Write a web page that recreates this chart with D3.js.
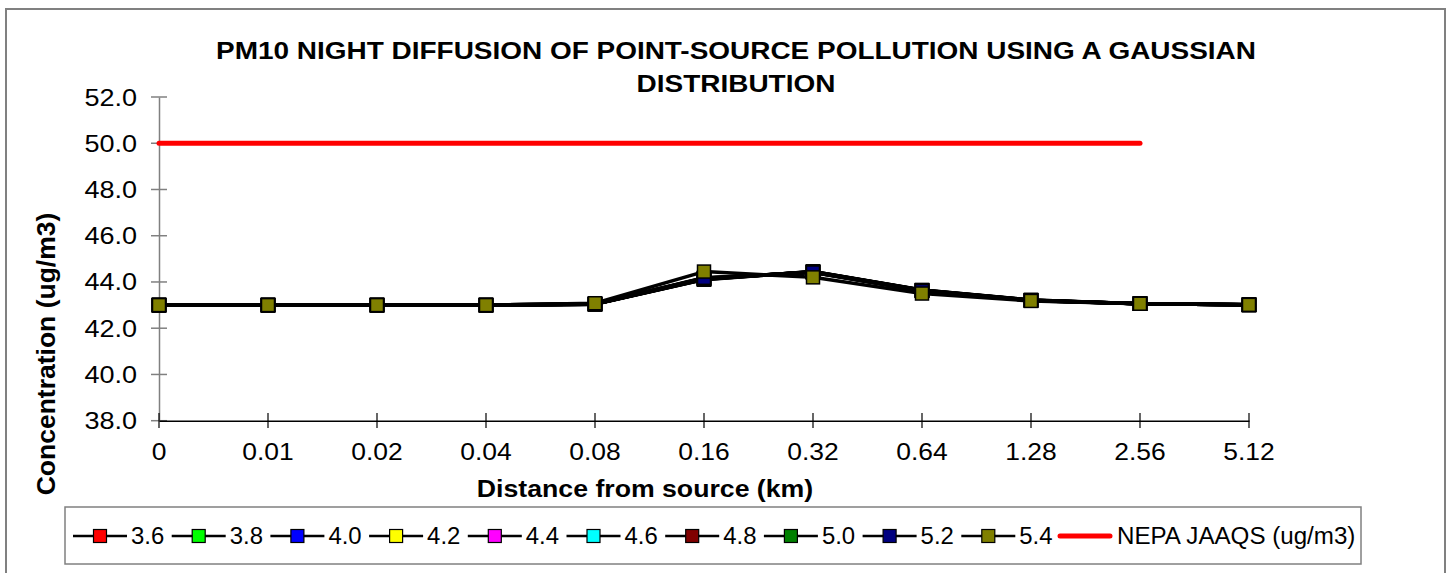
<!DOCTYPE html>
<html>
<head>
<meta charset="utf-8">
<script src="https://cdn.jsdelivr.net/npm/d3@7"></script>
<style>
  body { margin: 0; background: #fff; }
  text { font-family: "Liberation Sans", Arial, sans-serif; fill: #000; }
</style>
</head>
<body>
<div id="chart"></div>
<script>
// distances (km) on the category axis
var distances = ['0', '0.01', '0.02', '0.04', '0.08', '0.16', '0.32', '0.64', '1.28', '2.56', '5.12'];
var yTicks = [38, 40, 42, 44, 46, 48, 50, 52];

// one series per wind speed (m/s)
var s36 = [43.0, 43.0, 43.0, 43.0, 43.04, 44.10, 44.45, 43.65, 43.22, 43.06, 43.01];
var s38 = [43.0, 43.0, 43.0, 43.0, 43.04, 44.11, 44.45, 43.65, 43.22, 43.06, 43.01];
var s40 = [43.0, 43.0, 43.0, 43.0, 43.04, 44.12, 44.44, 43.64, 43.21, 43.06, 43.01];
var s42 = [43.0, 43.0, 43.0, 43.0, 43.04, 44.13, 44.44, 43.64, 43.21, 43.06, 43.01];
var s44 = [43.0, 43.0, 43.0, 43.0, 43.04, 44.14, 44.43, 43.63, 43.21, 43.06, 43.01];
var s46 = [43.0, 43.0, 43.0, 43.0, 43.05, 44.15, 44.43, 43.63, 43.20, 43.06, 43.01];
var s48 = [43.0, 43.0, 43.0, 43.0, 43.05, 44.16, 44.42, 43.62, 43.20, 43.06, 43.01];
var s50 = [43.0, 43.0, 43.0, 43.0, 43.05, 44.17, 44.42, 43.62, 43.20, 43.06, 43.01];
var s52 = [43.0, 43.0, 43.0, 43.0, 43.05, 44.18, 44.41, 43.61, 43.19, 43.06, 43.01];
var s54 = [43.0, 43.0, 43.0, 43.0, 43.08, 44.45, 44.20, 43.50, 43.18, 43.06, 43.01];
// standard line (no value at 5.12)
var nepa = [50, 50, 50, 50, 50, 50, 50, 50, 50, 50, null];

var seriesNames = ['3.6', '3.8', '4.0', '4.2', '4.4', '4.6', '4.8', '5.0', '5.2', '5.4'];
var seriesColors = ['#ff0000', '#00ff00', '#0000ff', '#ffff00', '#ff00ff', '#00ffff', '#800000', '#008000', '#000080', '#808000'];
var seriesValues = [s36, s38, s40, s42, s44, s46, s48, s50, s52, s54];

var width = 1449, height = 573;

var svg = d3.select('#chart')
    .append('svg')
    .attr('width', width)
    .attr('height', height);

svg.append('rect')
    .attr('width', width).attr('height', height)
    .attr('fill', 'white');

// outer chart border
svg.append('rect')
    .attr('x', 6).attr('y', 9)
    .attr('width', 1439).attr('height', 620)
    .attr('fill', 'none')
    .attr('stroke', '#808080')
    .attr('stroke-width', 2);

var x = d3.scalePoint()
    .domain(distances)
    .range([159, 1249]);

var y = d3.scaleLinear()
    .domain([38, 52])
    .range([420.7, 97]);

// the original fonts are drawn a bit wider than normal, so stretch them
function wideText(g, tx, ty, str, size, anchor, bold, sx) {
    g.append('text')
        .attr('transform', 'translate(' + tx + ',' + ty + ') scale(' + sx + ',1)')
        .attr('text-anchor', anchor)
        .style('font-size', size + 'px')
        .style('font-weight', bold ? 'bold' : 'normal')
        .text(str);
}

// title
wideText(svg, 736, 59, 'PM10 NIGHT DIFFUSION OF POINT-SOURCE POLLUTION USING A GAUSSIAN', 24, 'middle', true, 1.165);
wideText(svg, 736, 92, 'DISTRIBUTION', 24, 'middle', true, 1.165);

// y axis
var yAxis = svg.append('g')
    .attr('transform', 'translate(159,0)')
    .call(d3.axisLeft(y).tickValues(yTicks).tickSize(0).tickFormat(''));
yAxis.select('.domain').attr('stroke', '#808080').attr('stroke-width', 1.5);
yTicks.forEach(function(t) {
    svg.append('line')
        .attr('x1', 151).attr('x2', 167)
        .attr('y1', y(t)).attr('y2', y(t))
        .attr('stroke', '#808080').attr('stroke-width', 1.5);
    wideText(svg, 137, y(t) + 8.5, d3.format('.1f')(t), 23.5, 'end', false, 1.15);
});

// x axis
var xAxis = svg.append('g')
    .attr('transform', 'translate(0,' + y(38) + ')')
    .call(d3.axisBottom(x).tickSize(0).tickFormat(''));
xAxis.select('.domain').attr('stroke', '#000').attr('stroke-width', 1.5);
distances.forEach(function(d) {
    svg.append('line')
        .attr('x1', x(d)).attr('x2', x(d))
        .attr('y1', 413).attr('y2', 428)
        .attr('stroke', '#000').attr('stroke-width', 1.2);
    wideText(svg, x(d), 460, d, 23, 'middle', false, 1.15);
});

// axis titles
wideText(svg, 645, 497, 'Distance from source (km)', 23, 'middle', true, 1.16);
svg.append('text')
    .attr('transform', 'translate(55,354) rotate(-90) scale(1.06,1)')
    .attr('text-anchor', 'middle')
    .style('font-size', '25px')
    .style('font-weight', 'bold')
    .text('Concentration (ug/m3)');

var line = d3.line()
    .defined(function(d) { return d.v != null; })
    .x(function(d) { return x(d.k); })
    .y(function(d) { return y(d.v); });

function pairs(vals) {
    return distances.map(function(k, i) { return { k: k, v: vals[i] }; });
}

// wind speed series
seriesValues.forEach(function(vals, i) {
    svg.append('path')
        .datum(pairs(vals))
        .attr('d', line)
        .attr('fill', 'none')
        .attr('stroke', '#000')
        .attr('stroke-width', 3.5)
        .attr('stroke-linejoin', 'round');
});
seriesValues.forEach(function(vals, i) {
    svg.selectAll('.m' + i)
        .data(pairs(vals))
        .enter()
        .append('rect')
        .attr('x', function(d) { return x(d.k) - 6.5; })
        .attr('y', function(d) { return y(d.v) - 6.5; })
        .attr('width', 13).attr('height', 13)
        .attr('fill', seriesColors[i])
        .attr('stroke', '#000')
        .attr('stroke-width', 1.5);
});

// standard line
svg.append('path')
    .datum(pairs(nepa))
    .attr('d', line)
    .attr('fill', 'none')
    .attr('stroke', '#ff0000')
    .attr('stroke-width', 5)
    .attr('stroke-linecap', 'round');

// legend
var legend = svg.append('g');
legend.append('rect')
    .attr('x', 65).attr('y', 507)
    .attr('width', 1296).attr('height', 57)
    .attr('fill', 'white')
    .attr('stroke', '#808080')
    .attr('stroke-width', 1.5);

var ly = 536, step = 98.7;
seriesNames.forEach(function(name, i) {
    var lx = 73 + i * step;
    legend.append('line')
        .attr('x1', lx).attr('x2', lx + 54)
        .attr('y1', ly).attr('y2', ly)
        .attr('stroke', '#000').attr('stroke-width', 2.5);
    legend.append('rect')
        .attr('x', lx + 20.5).attr('y', ly - 6.5)
        .attr('width', 13).attr('height', 13)
        .attr('fill', seriesColors[i])
        .attr('stroke', '#000').attr('stroke-width', 1.2);
    wideText(legend, lx + 58, ly + 8.3, name, 23, 'start', false, 1.04);
});
legend.append('line')
    .attr('x1', 1060).attr('x2', 1110)
    .attr('y1', ly).attr('y2', ly)
    .attr('stroke', '#ff0000').attr('stroke-width', 5)
    .attr('stroke-linecap', 'round');
wideText(legend, 1117, ly + 8.3, 'NEPA JAAQS (ug/m3)', 23, 'start', false, 1.05);
</script>
</body>
</html>
